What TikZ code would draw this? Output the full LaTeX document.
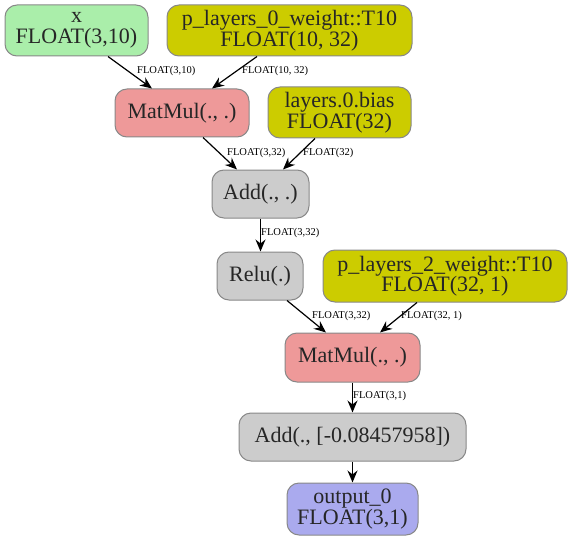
\documentclass[tikz,border=0pt]{standalone}
\usepackage{fontspec}
\setmainfont{Liberation Serif}
\usetikzlibrary{arrows.meta}
\definecolor{cgreen}{HTML}{AAEEAA}
\definecolor{cyellow}{HTML}{CCCC00}
\definecolor{cpink}{HTML}{EE9999}
\definecolor{cgray}{HTML}{CCCCCC}
\definecolor{cblue}{HTML}{AAAAEE}
\definecolor{cborder}{HTML}{888888}
\definecolor{ctext}{HTML}{262626}
\tikzset{
  box/.style={draw=cborder, line width=1pt, rounded corners=12pt, inner sep=0pt,
    align=center, text=ctext, font=\fontsize{22}{20.5}\selectfont},
  conn/.style={-{Stealth[length=12pt,width=10pt,inset=4pt]}, line width=1.2pt, black},
  elabel/.style={anchor=west, inner sep=0pt, font=\fontsize{10.5}{11}\selectfont, text=black},
}
\begin{document}
\begin{tikzpicture}[x=1pt,y=-1pt]
\useasboundingbox (0,0) rectangle (572,540);
\node[box, fill=cgreen, minimum width=143pt, minimum height=51pt] (x) at (76.5,30.5) {x\\FLOAT(3,10)};
\node[box, fill=cyellow, minimum width=245pt, minimum height=51pt] (p0w) at (289.5,30.5) {p\_layers\_0\_weight::T10\\FLOAT(10, 32)};
\node[box, fill=cpink, minimum width=134pt, minimum height=48pt] (mm1) at (182,113) {MatMul(., .)};
\node[box, fill=cyellow, minimum width=143pt, minimum height=51pt] (bias) at (339.5,112.5) {layers.0.bias\\FLOAT(32)};
\node[box, fill=cgray, minimum width=97pt, minimum height=48pt] (add1) at (260.5,194) {Add(., .)};
\node[box, fill=cgray, minimum width=86pt, minimum height=48pt] (relu) at (260,276) {Relu(.)};
\node[box, fill=cyellow, minimum width=244pt, minimum height=52pt] (p2w) at (445,276) {p\_layers\_2\_weight::T10\\FLOAT(32, 1)};
\node[box, fill=cpink, minimum width=135pt, minimum height=49pt] (mm2) at (352.5,357.5) {MatMul(., .)};
\node[box, fill=cgray, minimum width=227pt, minimum height=48pt] (add2) at (352.5,437) {Add(., [-0.08457958])};
\node[box, fill=cblue, minimum width=131pt, minimum height=52pt] (out) at (352.5,509) {output\_0\\FLOAT(3,1)};

\draw[conn] ([xshift=31.5pt]x.south) -- ([xshift=-30pt]mm1.north);
\draw[conn] ([xshift=-32.5pt]p0w.south) -- ([xshift=30pt]mm1.north);
\draw[conn] ([xshift=21pt]mm1.south) -- ([xshift=-23.5pt]add1.north);
\draw[conn] ([xshift=-24.5pt]bias.south) -- ([xshift=22.5pt]add1.north);
\draw[conn] (add1.south) -- (add1.south |- relu.north);
\draw[conn] ([xshift=27pt]relu.south) -- ([xshift=-26.5pt]mm2.north);
\draw[conn] ([xshift=-28pt]p2w.south) -- ([xshift=27.5pt]mm2.north);
\draw[conn] (mm2.south) -- (add2.north);
\draw[conn] (add2.south) -- (out.north);

\node[elabel] (l1) at (137,71) {FLOAT(3,10)};
\node[elabel] (l2) at (242,71) {FLOAT(10, 32)};
\node[elabel] (l3) at (227,153) {FLOAT(3,32)};
\node[elabel] (l4) at (303,153) {FLOAT(32)};
\node[elabel] (l5) at (261,233) {FLOAT(3,32)};
\node[elabel] (l6) at (312,316) {FLOAT(3,32)};
\node[elabel] (l7) at (401,316) {FLOAT(32, 1)};
\node[elabel] (l8) at (353,396) {FLOAT(3,1)};
\end{tikzpicture}
\end{document}
